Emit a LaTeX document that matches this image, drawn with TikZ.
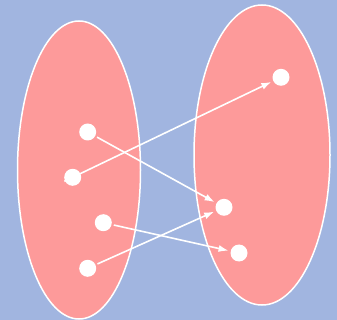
\documentclass[tikz,border=0pt]{standalone}
\usepackage{tikz}
\usetikzlibrary{arrows.meta,shapes.geometric}
\definecolor{bg}{HTML}{A1B5E0}
\definecolor{setc}{HTML}{FD9A9A}
\tikzset{
  setbox/.style={ellipse,draw=white,line width=1.5pt,fill=setc,inner sep=0pt},
  pt/.style={circle,fill=white,inner sep=0pt,minimum size=17pt},
  ar/.style={-{Latex[length=10pt,width=7pt]},line width=1.6pt,draw=white,shorten <=2pt,shorten >=2pt},
}
\begin{document}
\begin{tikzpicture}[x=1pt,y=-1pt]
\fill[bg] (0,0) rectangle (337,320);
\useasboundingbox (0,0) rectangle (337,320);
% the two sets
\node[setbox,minimum width=123pt,minimum height=298pt] (dom) at (79,170) {};
\node[setbox,minimum width=136pt,minimum height=300pt] (cod) at (262,155) {};
% elements
\node[pt] (x1) at (87.7,132) {};
\node[pt] (x2) at (72.7,177.3) {};
\node[pt] (x3) at (103.3,222.7) {};
\node[pt] (x4) at (87.7,268.3) {};
\node[pt] (y1) at (281,77.3) {};
\node[pt] (y2) at (224,207.3) {};
\node[pt] (y3) at (239,253) {};
% mapping
\draw[ar,shorten <=-18pt] (x2) -- (y1);
\draw[ar] (x1) -- (y2);
\draw[ar] (x4) -- (y2);
\draw[ar] (x3) -- (y3);
\end{tikzpicture}
\end{document}
